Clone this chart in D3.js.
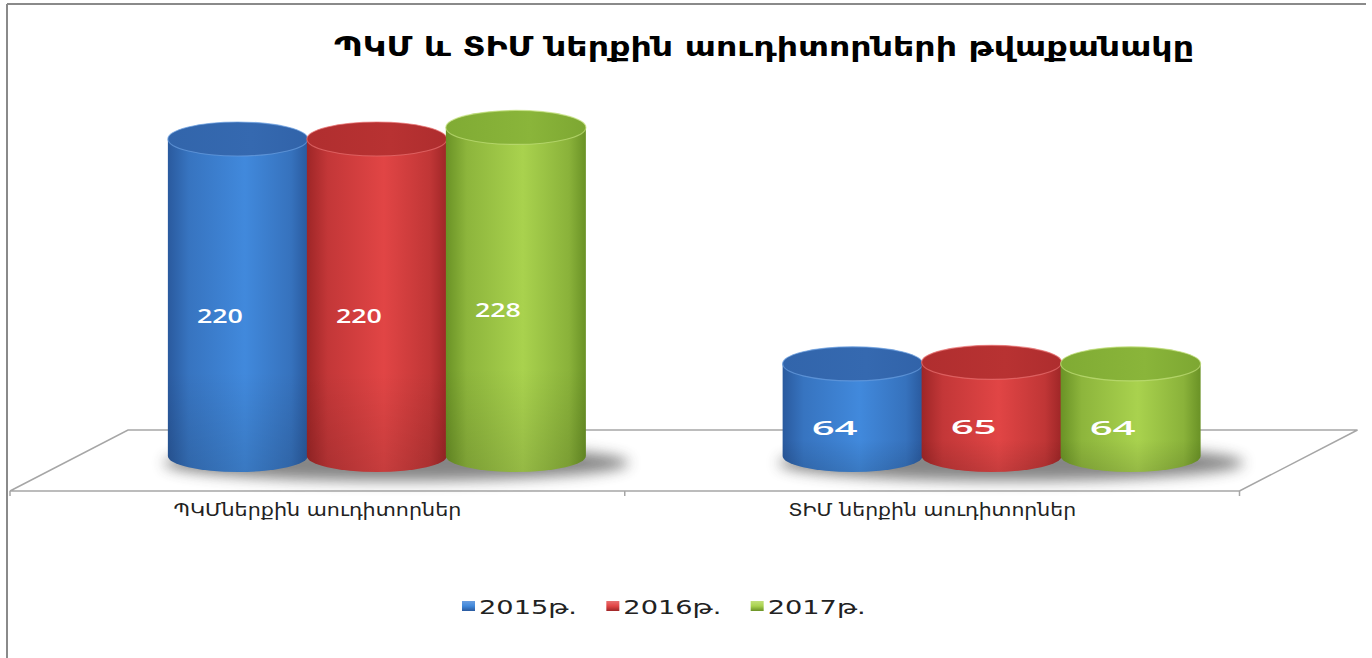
<!DOCTYPE html>
<html><head><meta charset="utf-8">
<script src="https://cdn.jsdelivr.net/npm/d3@7"></script>
<style>body{margin:0;background:#fff;overflow:hidden}</style>
</head><body>
<svg id="c" width="1372" height="658"></svg>
<script>
const titleText = "ՊԿՄ և ՏԻՄ ներքին աուդիտորների թվաքանակը";
const categories = ["ՊԿՄներքին աուդիտորներ", "ՏԻՄ ներքին աուդիտորներ"];
const seriesNames = ["2015թ.", "2016թ.", "2017թ."];
const values2015 = [220, 64];
const values2016 = [220, 65];
const values2017 = [228, 64];
const seriesValues = [values2015, values2016, values2017];

const palette = [
  {edge:"#2a5a9e", mid:"#4189dc", top:"#3569b0", rim:"#6a9ee0"},
  {edge:"#9e2627", mid:"#e14545", top:"#b83232", rim:"#e87070"},
  {edge:"#6a9226", mid:"#a9d24e", top:"#8ab53a", rim:"#c2e07a"}
];

const svg = d3.select("#c");
const defs = svg.append("defs");

palette.forEach((p,i)=>{
  const g = defs.append("linearGradient").attr("id","body"+i).attr("x1","0").attr("x2","1").attr("y1","0").attr("y2","0");
  g.append("stop").attr("offset","0").attr("stop-color",p.edge);
  g.append("stop").attr("offset","0.15").attr("stop-color",d3.interpolateRgb(p.edge,p.mid)(0.55));
  g.append("stop").attr("offset","0.55").attr("stop-color",p.mid);
  g.append("stop").attr("offset","0.88").attr("stop-color",d3.interpolateRgb(p.edge,p.mid)(0.5));
  g.append("stop").attr("offset","1").attr("stop-color",p.edge);
  const t = defs.append("linearGradient").attr("id","top"+i).attr("x1","0").attr("x2","1").attr("y1","0").attr("y2","0");
  t.append("stop").attr("offset","0").attr("stop-color",d3.interpolateRgb(p.top,p.edge)(0.3));
  t.append("stop").attr("offset","0.6").attr("stop-color",p.top);
  t.append("stop").attr("offset","1").attr("stop-color",d3.interpolateRgb(p.top,p.edge)(0.4));
  const v = defs.append("linearGradient").attr("id","shade"+i).attr("x1","0").attr("x2","0").attr("y1","0").attr("y2","1");
  v.append("stop").attr("offset","0").attr("stop-color","#fff").attr("stop-opacity",0.0);
  v.append("stop").attr("offset","0.7").attr("stop-color","#000").attr("stop-opacity",0.0);
  v.append("stop").attr("offset","1").attr("stop-color","#000").attr("stop-opacity",0.12);
  const l = defs.append("linearGradient").attr("id","leg"+i).attr("x1","0").attr("x2","0").attr("y1","0").attr("y2","1");
  l.append("stop").attr("offset","0").attr("stop-color",p.rim);
  l.append("stop").attr("offset","0.5").attr("stop-color",p.mid);
  l.append("stop").attr("offset","1").attr("stop-color",p.edge);
});
const blur = defs.append("filter").attr("id","blur").attr("x","-30%").attr("y","-100%").attr("width","160%").attr("height","300%");
blur.append("feGaussianBlur").attr("stdDeviation","7");

// frame
svg.append("line").attr("x1",7).attr("y1",4).attr("x2",1366).attr("y2",4).attr("stroke","#8a8a8a").attr("stroke-width",2);
svg.append("line").attr("x1",7).attr("y1",4).attr("x2",7).attr("y2",658).attr("stroke","#8a8a8a").attr("stroke-width",2);

// title
svg.append("text").attr("x",334).attr("y",56).attr("textLength",860).attr("lengthAdjust","spacingAndGlyphs")
  .attr("font-family","DejaVu Sans").attr("font-weight","bold").attr("font-size",27).attr("fill","#000").text(titleText);

// scales (mid-depth plane)
const x = d3.scaleBand().domain(categories).range([69, 1298.5]).padding(0);
const groupW = 417;
const xs = d3.scaleBand().domain(seriesNames).range([0, groupW]).padding(0);
const y = d3.scaleLinear().domain([0, 220]).range([456, 139]);
const depthX = 59, depthY = 30.5, midY = 460.5;
const [r0, r1] = x.range();

// floor
const floorPts = [[r0-depthX, midY+depthY],[r0+depthX, midY-depthY],[r1+depthX, midY-depthY],[r1-depthX, midY+depthY]];
svg.append("polygon").attr("points",floorPts.map(p=>p.join(",")).join(" ")).attr("fill","#fff")
  .attr("stroke","#a6a6a6").attr("stroke-width",1.5);
const tickXs = categories.map(c=>x(c)-depthX).concat([r1-depthX]);
svg.selectAll(".tk").data(tickXs).join("line").attr("x1",d=>d).attr("x2",d=>d)
  .attr("y1",midY+depthY).attr("y2",midY+depthY+5).attr("stroke","#a6a6a6").attr("stroke-width",1.5);

// category labels
svg.selectAll(".cat").data(categories).join("text")
  .attr("x",d=>x(d)+x.bandwidth()/2-depthX).attr("y",516).attr("text-anchor","middle")
  .attr("textLength",288).attr("lengthAdjust","spacingAndGlyphs")
  .attr("font-family","DejaVu Sans").attr("font-size",17).attr("fill","#222").text(d=>d);

// shadows
categories.forEach((c)=>{
  const gl = x(c)+(x.bandwidth()-groupW)/2;
  svg.append("ellipse").attr("cx",gl+groupW/2+20).attr("cy",y(0)+7).attr("rx",groupW/2+24).attr("ry",18)
    .attr("fill","#444").attr("opacity",0.65).attr("filter","url(#blur)");
});

// cylinders
const ry = 16;
categories.forEach((c,ci)=>{
  const gl = x(c)+(x.bandwidth()-groupW)/2;
  seriesNames.forEach((s,si)=>{
    const v = seriesValues[si][ci];
    const left = gl + xs(s), w = xs.bandwidth()+1, right = left+w, rx = w/2, cx = left+rx;
    const yt = y(v), yb = y(0);
    const body = `M${left},${yt} L${left},${yb} A${rx},${ry} 0 0 0 ${right},${yb} L${right},${yt} Z`;
    svg.append("path").attr("d",body).attr("fill",`url(#body${si})`);
    svg.append("path").attr("d",body).attr("fill",`url(#shade${si})`);
    svg.append("ellipse").attr("cx",cx).attr("cy",yt).attr("rx",rx).attr("ry",ry+1)
      .attr("fill",`url(#top${si})`).attr("stroke",palette[si].rim).attr("stroke-width",1.2).attr("stroke-opacity",0.7);
    svg.append("text").attr("x",cx-18).attr("y",(yt+yb)/2+25).attr("text-anchor","middle")
      .attr("textLength", 46).attr("lengthAdjust","spacingAndGlyphs")
      .attr("font-family","Open Sans").attr("font-weight",600).attr("font-size",19).attr("fill","#fff").text(v);
  });
});

// legend
const lx = d3.scaleBand().domain(seriesNames).range([462, 895]);
const lg = svg.selectAll(".lg").data(seriesNames).join("g").attr("transform",d=>`translate(${lx(d)},0)`);
lg.append("rect").attr("x",0).attr("y",601).attr("width",13).attr("height",10).attr("fill",(d,i)=>`url(#leg${i})`);
lg.append("text").attr("x",17).attr("y",614).attr("textLength",98).attr("lengthAdjust","spacingAndGlyphs")
  .attr("font-family","DejaVu Sans").attr("font-size",19).attr("fill","#222").text(d=>d);
</script>
</body></html>
